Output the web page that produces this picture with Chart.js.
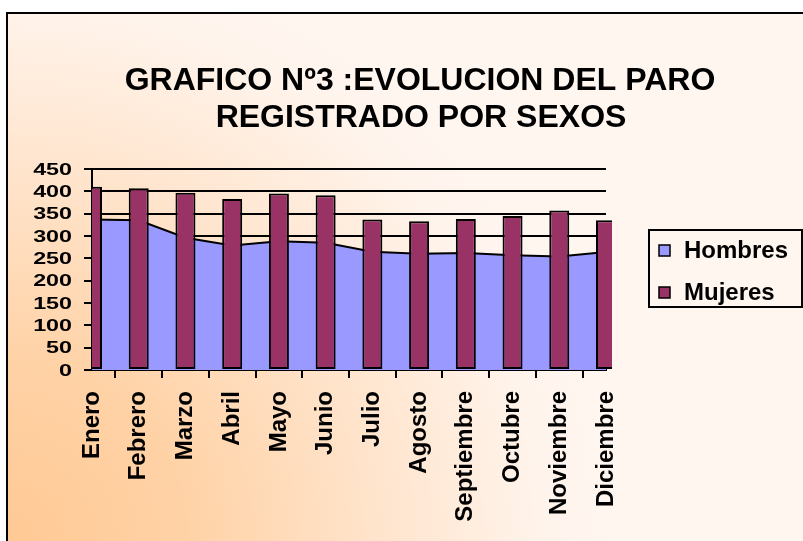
<!DOCTYPE html>
<html>
<head>
<meta charset="utf-8">
<script src="https://cdn.jsdelivr.net/npm/chart.js@4.4.1/dist/chart.umd.min.js"></script>
<style>
  html, body { margin: 0; padding: 0; background: #fff; }
  #wrap { width: 803px; height: 541px; }
</style>
</head>
<body>
<div id="wrap"><canvas id="paroChart" width="803" height="541"></canvas></div>
<script>
// Grafico 3 - paro registrado por sexos

const meses = ['Enero', 'Febrero', 'Marzo', 'Abril', 'Mayo', 'Junio',
               'Julio', 'Agosto', 'Septiembre', 'Octubre', 'Noviembre', 'Diciembre'];
const hombres = [337, 335, 296, 279, 288, 285, 265, 260, 262, 257, 254, 264];
const mujeres = [410, 407, 397, 383, 395, 391, 337, 333, 338, 345, 357, 335];
const ticksY = [0, 50, 100, 150, 200, 250, 300, 350, 400, 450];
const titulo = ['GRAFICO Nº3 :EVOLUCION DEL PARO', 'REGISTRADO POR SEXOS'];

const FONT = '"Liberation Sans", Arial, sans-serif';

// fondo degradado + marco + titulo
const marcoPlugin = {
    id: 'marco',
    beforeDraw(chart) {
        const ctx = chart.ctx;
        const w = chart.width, h = chart.height;
        ctx.save();
        ctx.fillStyle = '#FFFFFF';
        ctx.fillRect(0, 0, w, h);
        const grad = ctx.createRadialGradient(7, h, 0, 7, h, 600);
        grad.addColorStop(0, '#FFC994');
        grad.addColorStop(0.3, '#FFD2A6');
        grad.addColorStop(0.65, '#FFE6D0');
        grad.addColorStop(0.9, '#FFF4EC');
        grad.addColorStop(1, '#FFF6F0');
        ctx.fillStyle = grad;
        ctx.fillRect(7, 13, w - 7, h - 13);
        ctx.strokeStyle = '#000';
        ctx.lineWidth = 2;
        ctx.beginPath();
        ctx.moveTo(7, h);
        ctx.lineTo(7, 13);
        ctx.lineTo(w, 13);
        ctx.stroke();
        ctx.restore();
    },
    afterDraw(chart) {
        const ctx = chart.ctx;
        ctx.save();
        ctx.fillStyle = '#000';
        ctx.font = 'bold 32px ' + FONT;
        ctx.textAlign = 'center';
        ctx.textBaseline = 'middle';
        ctx.fillText(titulo[0], 420, 81);
        ctx.fillText(titulo[1], 421, 118);
        ctx.restore();
    }
};

// etiquetas del eje Y (anchas, como en el original)
const ejeYPlugin = {
    id: 'ejeY',
    afterDraw(chart) {
        const ctx = chart.ctx;
        const sc = chart.scales.y;
        ctx.save();
        ctx.fillStyle = '#000';
        ctx.font = 'bold 17px ' + FONT;
        ctx.textAlign = 'right';
        ctx.textBaseline = 'middle';
        sc.ticks.forEach((t) => {
            const y = sc.getPixelForValue(t.value);
            ctx.save();
            ctx.translate(72, y + 1);
            ctx.scale(1.37, 1);
            ctx.fillText(String(t.value), 0, 0);
            ctx.restore();
        });
        ctx.restore();
    }
};

// leyenda con recuadro a la derecha
const leyendaPlugin = {
    id: 'leyenda',
    afterDraw(chart) {
        const ctx = chart.ctx;
        ctx.save();
        ctx.strokeStyle = '#000';
        ctx.lineWidth = 2;
        ctx.strokeRect(649, 230, 153, 77);
        ctx.font = 'bold 24px ' + FONT;
        ctx.textBaseline = 'middle';
        chart.data.datasets.forEach((ds, i) => {
            const y = 250 + i * 42;
            ctx.fillStyle = ds.backgroundColor;
            ctx.fillRect(659, y - 5, 11, 11);
            ctx.lineWidth = 1.5;
            ctx.strokeRect(659, y - 5, 11, 11);
            ctx.fillStyle = '#000';
            ctx.fillText(ds.label, 684, y + 1);
        });
        ctx.restore();
    }
};

const ctx = document.getElementById('paroChart');
new Chart(ctx, {
    data: {
        labels: meses,
        datasets: [
            {
                type: 'line',
                label: 'Hombres',
                data: hombres,
                order: 1,
                fill: 'origin',
                backgroundColor: '#9999FF',
                borderColor: '#000000',
                borderWidth: 2,
                pointRadius: 0,
                tension: 0
            },
            {
                type: 'bar',
                label: 'Mujeres',
                data: mujeres,
                order: 0,
                backgroundColor: '#993366',
                borderColor: '#000000',
                borderWidth: 2,
                borderSkipped: false,
                barPercentage: 0.535,
                categoryPercentage: 0.8,
                clip: { left: 0, top: 0, right: 6, bottom: 0 }
            }
        ]
    },
    options: {
        responsive: false,
        animation: false,
        devicePixelRatio: 1,
        layout: { padding: { left: 0, top: 169, right: 197, bottom: 0 } },
        plugins: {
            legend: { display: false },
            title: { display: false },
            tooltip: { enabled: false }
        },
        scales: {
            x: {
                offset: false,
                afterFit: (s) => { s.height = 171; },
                grid: { drawOnChartArea: false, drawTicks: true, tickLength: 8, color: '#000', lineWidth: 2 },
                border: { display: true, color: '#000', width: 2 },
                ticks: {
                    autoSkip: false,
                    minRotation: 90,
                    maxRotation: 90,
                    padding: 13,
                    color: '#000',
                    font: { family: FONT, size: 24, weight: 'bold' }
                }
            },
            y: {
                min: ticksY[0],
                max: ticksY[ticksY.length - 1],
                afterFit: (s) => { s.width = 92; },
                grid: { color: '#000', lineWidth: 2, tickLength: 8 },
                border: { display: true, color: '#000', width: 2 },
                ticks: {
                    stepSize: ticksY[1] - ticksY[0],
                    display: false
                }
            }
        }
    },
    plugins: [marcoPlugin, ejeYPlugin, leyendaPlugin]
});
</script>
</body>
</html>
